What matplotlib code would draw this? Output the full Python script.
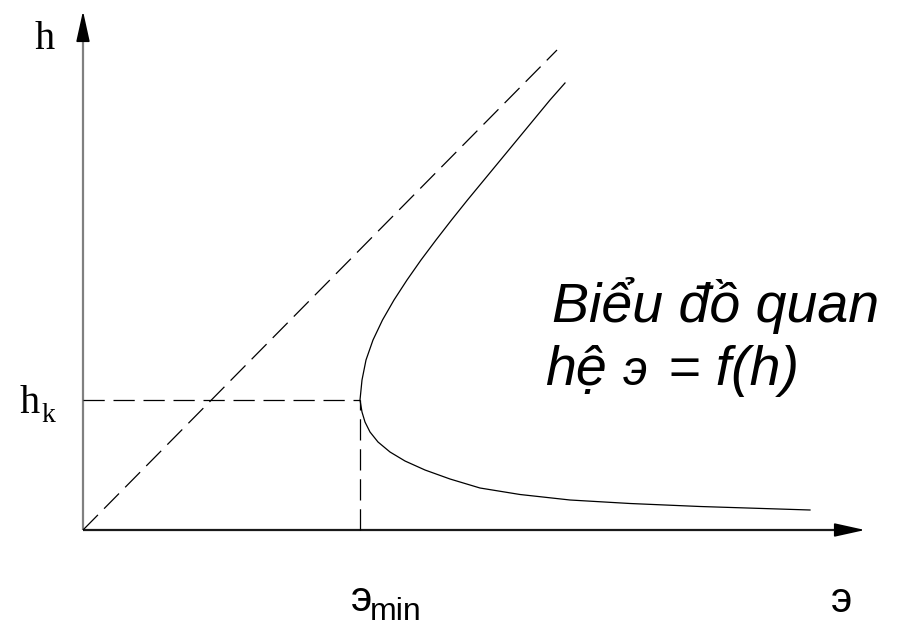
import numpy as np
import matplotlib.pyplot as plt

# Đường năng lượng đơn vị э = f(h)
E_curve = [4.82, 4.67, 4.505, 4.34, 4.175, 4.01, 3.845, 3.685, 3.53, 3.38,
           3.24, 3.11, 2.995, 2.90, 2.83, 2.79, 2.78, 2.77,
           2.79, 2.82, 2.87, 2.95, 3.07, 3.22, 3.42, 3.67, 3.97, 4.37,
           4.87, 5.47, 6.17, 7.27]
h_curve = [4.47, 4.30, 4.10, 3.90, 3.70, 3.50, 3.30, 3.10, 2.90, 2.70,
           2.50, 2.30, 2.10, 1.90, 1.70, 1.50, 1.40, 1.30,
           1.18, 1.08, 0.98, 0.88, 0.78, 0.69, 0.60, 0.51, 0.42, 0.355,
           0.30, 0.265, 0.235, 0.20]

# Đường tiệm cận э = h
E_asym = [0.0, 4.74]
h_asym = [0.0, 4.80]

# Điểm cực tiểu
E_min = 2.77
h_k = 1.30

# Chiều dài trục
E_axis_end = 7.82
h_axis_end = 5.19

fig = plt.figure(figsize=(9.01, 6.26), dpi=100)
ax = fig.add_axes([0, 0, 1, 1])
ax.set_xlim(-0.83, 8.18)
ax.set_ylim(-0.96, 5.30)
ax.axis('off')

# Trục tọa độ
ax.plot([0, 0], [0, h_axis_end - 0.2], color='#808080', lw=1.6, solid_capstyle='butt')
ax.plot([0, E_axis_end - 0.2], [0, 0], color='#1a1a1a', lw=1.6, solid_capstyle='butt')
arrow = dict(arrowstyle='-|>,head_length=1.9,head_width=0.42', color='black',
             lw=1.2, shrinkA=0, shrinkB=0)
ax.annotate('', xy=(0, h_axis_end), xytext=(0, h_axis_end - 0.3), arrowprops=arrow)
ax.annotate('', xy=(E_axis_end, 0), xytext=(E_axis_end - 0.3, 0), arrowprops=arrow)

dash = dict(color='black', lw=0.9, dashes=(17, 7))
ax.plot(E_asym, h_asym, **dash)
ax.plot([0, E_min], [h_k, h_k], **dash)
ax.plot([E_min, E_min], [0, h_k], **dash)

ax.plot(E_curve, h_curve, color='black', lw=0.9, solid_joinstyle='round')

# Nhãn
serif = 'Liberation Serif'
sans = 'Liberation Sans'
ax.text(-0.38, 4.81, 'h', family=serif, fontsize=29, ha='center', va='baseline')
ax.text(-0.63, 1.17, 'h', family=serif, fontsize=29, ha='left', va='baseline')
ax.text(-0.41, 1.08, 'k', family=serif, fontsize=20, ha='left', va='baseline')

ax.text(2.68, -0.81, 'э', family=sans, fontsize=30, ha='left', va='baseline')
ax.text(2.87, -0.90, 'min', family=sans, fontsize=23, ha='left', va='baseline')
ax.text(7.58, -0.82, 'э', family=sans, fontsize=30, ha='center', va='baseline')

ax.text(4.69, 2.08, 'Biểu đồ quan', family=sans, style='italic', fontsize=40,
        ha='left', va='baseline')
ax.text(4.62, 1.45, 'hệ', family=sans, style='italic', fontsize=40,
        ha='left', va='baseline')
ax.text(5.40, 1.45, 'э', family=sans, style='italic', fontsize=36,
        ha='left', va='baseline')
ax.text(5.85, 1.45, '= f(h)', family=sans, style='italic', fontsize=40,
        ha='left', va='baseline')

fig.savefig('out.png', dpi=100)
